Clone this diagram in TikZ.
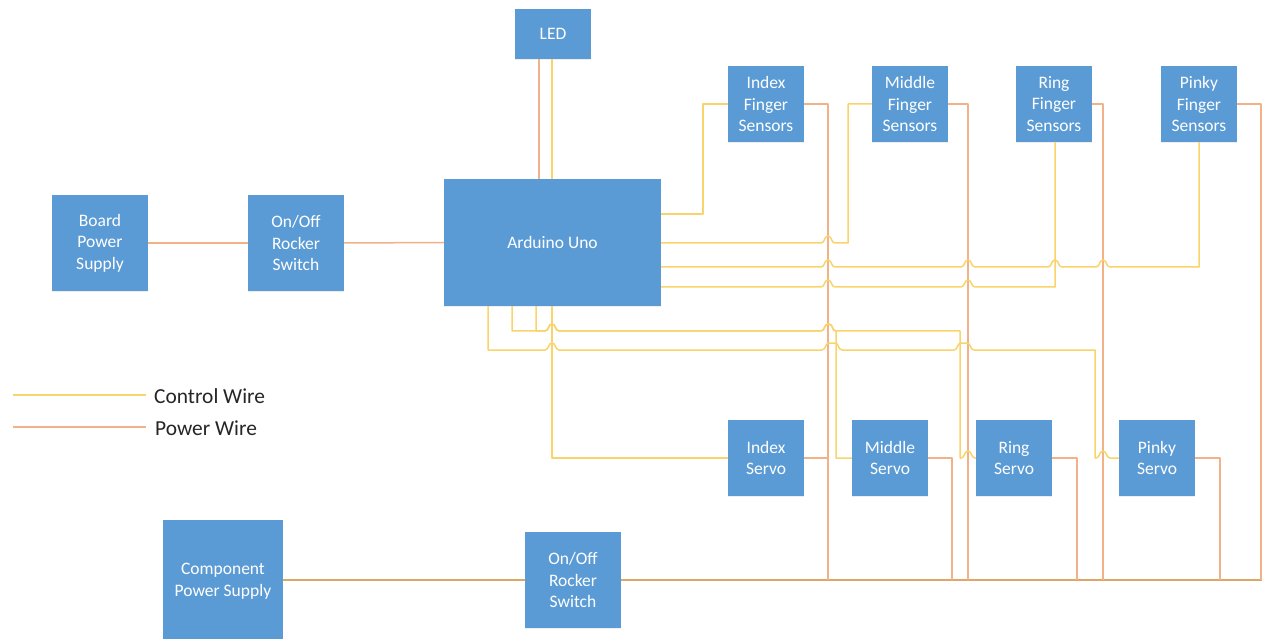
\documentclass[tikz,border=0pt]{standalone}
\usepackage{fontspec}
\setmainfont{Carlito}
\usetikzlibrary{shadows}
\definecolor{boxblue}{HTML}{5B9BD5}
\definecolor{ctrlc}{HTML}{F9D36B}
\definecolor{powc}{HTML}{F1B287}
\definecolor{mainc}{HTML}{DDA765}
\newcommand\hop[2]{-- (#1-7,#2) .. controls (#1-3,#2) and (#1-4,#2-7) .. (#1,#2-7) .. controls (#1+4,#2-7) and (#1+3,#2) .. (#1+7,#2)}
\newcommand\hopw[3]{-- (#1-7,#3) .. controls (#1-3,#3) and (#1-4,#3-7) .. (#1,#3-7) -- (#2,#3-7) .. controls (#2+4,#3-7) and (#2+3,#3) .. (#2+7,#3)}
\tikzset{
  x=1pt,y=-1pt,
  block/.style={fill=boxblue,draw=none,text=white,align=center,inner sep=0pt,
    font=\fontsize{17.5}{21.5}\selectfont,
    drop shadow={shadow xshift=0pt,shadow yshift=-1pt,opacity=.13}},
  sq/.style={block,minimum width=76pt,minimum height=76pt},
  big/.style={block,minimum width=96pt,minimum height=96pt},
  ctrl/.style={draw=ctrlc,line width=1.5pt,line join=round},
  pow/.style={draw=powc,line width=1.5pt,line join=round},
  mainw/.style={draw=mainc,line width=1.3pt},
  legend/.style={inner sep=0pt,anchor=west,text=black!85,font=\fontsize{21.4}{24}\selectfont}
}
\begin{document}
\begin{tikzpicture}
\useasboundingbox (0,0) rectangle (1262,639);
\fill[white] (0,0) rectangle (1262,639);
% nodes
\node[block,minimum width=76pt,minimum height=50pt] (led) at (553,34) {LED};
\node[block,minimum width=217pt,minimum height=127pt] (ard) at (552.5,242.5) {Arduino Uno};
\node[big] (board) at (100,243) {Board\\Power\\Supply};
\node[big] (sw1) at (296,243) {On/Off\\Rocker\\Switch};
\node[sq] (si) at (766,104) {Index\\Finger\\Sensors};
\node[sq] (sm) at (910,104) {Middle\\Finger\\Sensors};
\node[sq] (sr) at (1054,104) {Ring\\Finger\\Sensors};
\node[sq] (sp) at (1199,104) {Pinky\\Finger\\Sensors};
\node[sq] (vi) at (766,458) {Index\\Servo};
\node[sq] (vm) at (890,458) {Middle\\Servo};
\node[sq] (vr) at (1014,458) {Ring\\Servo};
\node[sq] (vp) at (1157,458) {Pinky\\Servo};
\node[block,minimum width=120pt,minimum height=119pt] (comp) at (223,579.5) {\rule{0pt}{15pt}Component\\Power Supply};
\node[big] (sw2) at (573,580) {On/Off\\Rocker\\Switch};
\coordinate (ca) at (13,395);
\coordinate (cb) at (146,395);
\coordinate (pa) at (13,427);
\coordinate (pb) at (146,427);
\coordinate (endr) at (1262,580);
\node[legend] (lc) at (154,396) {Control Wire};
\node[legend] (lp) at (155,428) {Power Wire};
% legend
\draw[ctrl] (ca) -- (cb);
\draw[pow] (pa) -- (pb);
% power
\draw[pow] (board.east) -- (sw1.west);
\draw[pow] (sw1.east) -- (ard.west);
\draw[pow] (led.south -| 539,0) -- (ard.north -| 539,0);
\draw[mainw] (comp.east |- sw2.west) -- (sw2.west);
\draw[mainw] (sw2.east) -- (endr);
\draw[pow] (si.east) -- (828,104) -- (828,580);
\draw[pow] (sm.east) -- (968,104) -- (968,580);
\draw[pow] (sr.east) -- (1103,104) -- (1103,580);
\draw[pow] (sp.east) -- (1261,104) -- (1261,580);
\draw[pow] (vi.east) -- (828,458);
\draw[pow] (vm.east) -- (952,458) -- (952,580);
\draw[pow] (vr.east) -- (1077,458) -- (1077,580);
\draw[pow] (vp.east) -- (1220,458) -- (1220,580);
% control
\draw[ctrl] (led.south -| 552,0) -- (ard.north -| 552,0);
\draw[ctrl] (ard.east |- 0,214) -- (703,214) -- (703,104) -- (si.west);
\draw[ctrl] (ard.east |- 0,243) \hop{828}{243} -- (848,243) -- (848,104) -- (sm.west);
\draw[ctrl] (ard.east |- 0,267) \hop{828}{267} \hop{968}{267} \hop{1055}{267} \hop{1103}{267} -- (1199,267) -- (sp.south);
\draw[ctrl] (ard.east |- 0,287) \hop{828}{287} \hop{968}{287} -- (1055,287) -- (1055,142);
\draw[ctrl] (ard.south -| 552,0) -- (552,458) -- (vi.west);
\draw[ctrl] (ard.south -| 512,0) -- (512,331) \hop{552}{331} \hopw{828}{829}{331} -- (836,331) -- (836,458) -- (vm.west);
\draw[ctrl] (ard.south -| 536,0) -- (536,331) \hop{552}{331} \hopw{828}{829}{331} -- (960,331) -- (960,458) \hop{968}{458} -- (vr.west);
\draw[ctrl] (ard.south -| 488,0) -- (488,350) \hop{552}{350} \hopw{829}{835}{350} \hopw{961}{967}{350} -- (1095,350) -- (1095,458) \hop{1103}{458} -- (vp.west);
\end{tikzpicture}
\end{document}
